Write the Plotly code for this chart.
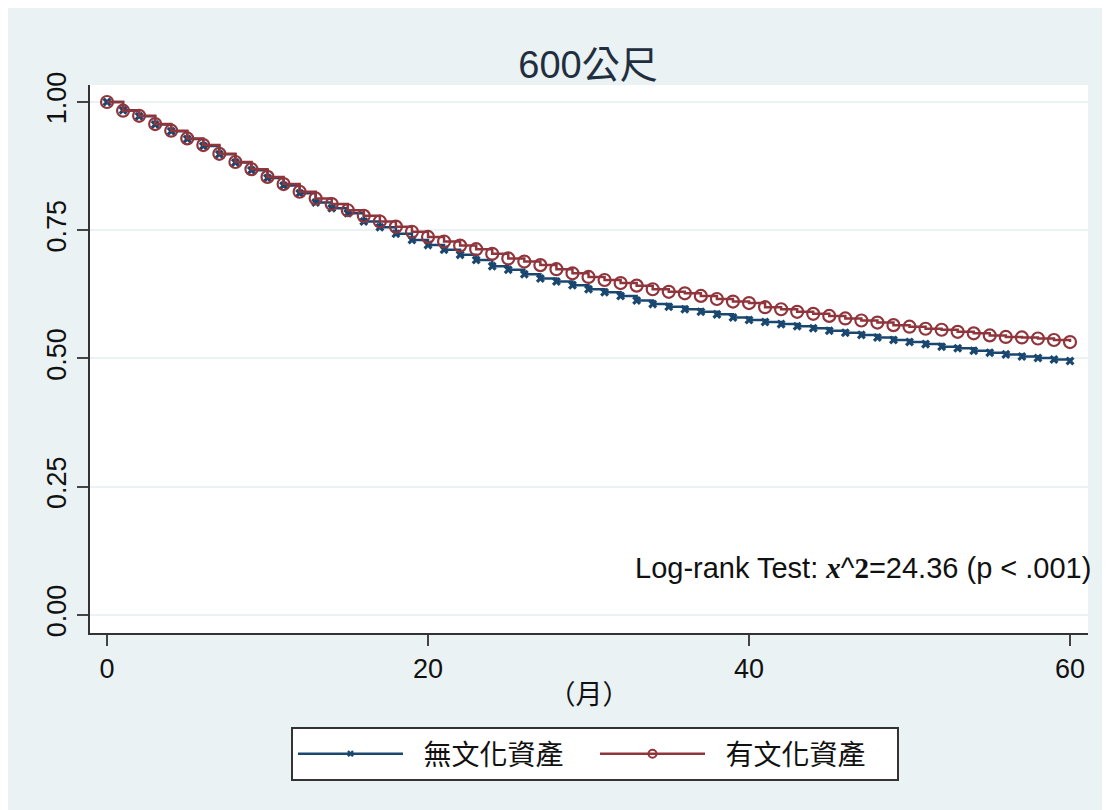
import plotly.graph_objects as go

months = list(range(61))

surv_no = [1.000, 0.984, 0.972, 0.956, 0.943, 0.928, 0.914, 0.898, 0.882, 0.867,
           0.852, 0.837, 0.822, 0.804, 0.793, 0.783, 0.767, 0.756, 0.743, 0.731,
           0.721, 0.712, 0.702, 0.692, 0.680, 0.673, 0.664, 0.656, 0.650, 0.643,
           0.635, 0.629, 0.622, 0.613, 0.606, 0.601, 0.596, 0.591, 0.586, 0.580,
           0.575, 0.571, 0.567, 0.563, 0.559, 0.554, 0.550, 0.546, 0.541, 0.536,
           0.532, 0.528, 0.523, 0.520, 0.515, 0.511, 0.508, 0.504, 0.501, 0.498,
           0.495]

surv_yes = [1.000, 0.983, 0.973, 0.957, 0.944, 0.929, 0.916, 0.899, 0.883, 0.869,
            0.854, 0.840, 0.825, 0.812, 0.801, 0.789, 0.778, 0.767, 0.757, 0.747,
            0.737, 0.728, 0.720, 0.713, 0.704, 0.695, 0.689, 0.682, 0.674, 0.666,
            0.659, 0.653, 0.647, 0.642, 0.635, 0.630, 0.627, 0.622, 0.616, 0.611,
            0.608, 0.600, 0.596, 0.591, 0.587, 0.583, 0.578, 0.574, 0.570, 0.565,
            0.562, 0.558, 0.556, 0.552, 0.549, 0.545, 0.542, 0.541, 0.539, 0.536,
            0.532]

series_names = ["無文化資產", "有文化資產"]
x_ticks = [0, 20, 40, 60]
y_ticks = [0, 0.25, 0.5, 0.75, 1.0]
y_tick_labels = ["0.00", "0.25", "0.50", "0.75", "1.00"]

BLUE = "#1a476f"
RED = "#90353b"
BG = "#eaf2f3"
FONT = "Liberation Sans, Arial, Noto Sans CJK TC, sans-serif"
SERIF = "Liberation Serif, Times New Roman, serif"

W, H = 1110, 810
L, R, T, B = 82, 30, 77, 185
PW, PH = W - L - R, H - T - B


def px2paper_x(px):
    return (px - L) / PW


def px2paper_y(py):
    return (H - B - py) / PH


fig = go.Figure()
fig.add_trace(go.Scatter(
    x=months, y=surv_no, name=series_names[0], mode="lines+markers", showlegend=False,
    line=dict(color=BLUE, width=2.5, shape="hv"),
    marker=dict(symbol="x", size=8, color=BLUE, line=dict(width=0)),
))
fig.add_trace(go.Scatter(
    x=months, y=surv_yes, name=series_names[1], mode="lines+markers", showlegend=False,
    line=dict(color=RED, width=2.5, shape="hv"),
    marker=dict(symbol="circle-open", size=12, color=RED, line=dict(width=2.2, color=RED)),
))
# legend-only entries (smaller legend symbols, as in the reference key)
nb = "\u00a0\u00a0"
fig.add_trace(go.Scatter(
    x=[None], y=[None], name=nb + series_names[0], mode="lines+markers",
    line=dict(color=BLUE, width=2.5),
    marker=dict(symbol="x", size=6, color=BLUE, line=dict(width=0)),
))
fig.add_trace(go.Scatter(
    x=[None], y=[None], name=nb + series_names[1], mode="lines+markers",
    line=dict(color=RED, width=2.5),
    marker=dict(symbol="circle-open", size=8, color=RED, line=dict(width=2, color=RED)),
))

fig.add_annotation(
    xref="paper", yref="paper", x=px2paper_x(1085), y=px2paper_y(560),
    xanchor="right", yanchor="middle", showarrow=False,
    text=("Log-rank Test: <b><i><span style='font-family:" + SERIF + "'>x</span></i></b>^"
          "<b><span style='font-family:" + SERIF + "'>2</span></b>=24.36 (p < .001)"),
    font=dict(size=29, color="#111111", family=FONT),
)

fig.update_layout(
    width=W, height=H,
    margin=dict(l=L, r=R, t=T, b=B, autoexpand=False),
    paper_bgcolor=BG, plot_bgcolor="white",
    font=dict(family=FONT, size=27, color="#111111"),
    title=dict(text="600公尺", x=px2paper_x(580), xref="paper", xanchor="center",
               y=1 - 57 / H, yanchor="middle",
               font=dict(size=38, color="#1f2f3f", family=FONT)),
    xaxis=dict(range=[-1.06, 61.12], tickvals=x_ticks, ticktext=[str(v) for v in x_ticks],
               showgrid=False, zeroline=False, showline=True, linecolor="#333333", linewidth=1.5,
               ticks="outside", ticklen=11, tickwidth=1.5, tickcolor="#444444",
               tickfont=dict(size=27),
               title=dict(text="（月）", font=dict(size=27), standoff=2)),
    yaxis=dict(range=[-0.0351, 1.0331], tickvals=y_ticks, ticktext=y_tick_labels,
               showgrid=True, gridcolor=BG, gridwidth=2, zeroline=False,
               showline=True, linecolor="#333333", linewidth=1.5,
               ticks="outside", ticklen=11, tickwidth=1.5, tickcolor="#444444",
               tickangle=-90, tickfont=dict(size=27)),
    legend=dict(orientation="h", x=0.506, xanchor="center", y=px2paper_y(719), yanchor="top",
                bgcolor="white", bordercolor="#333333", borderwidth=2,
                font=dict(size=28), itemwidth=105, entrywidth=182, entrywidthmode="pixels"),
)

fig.write_html("out.html")
